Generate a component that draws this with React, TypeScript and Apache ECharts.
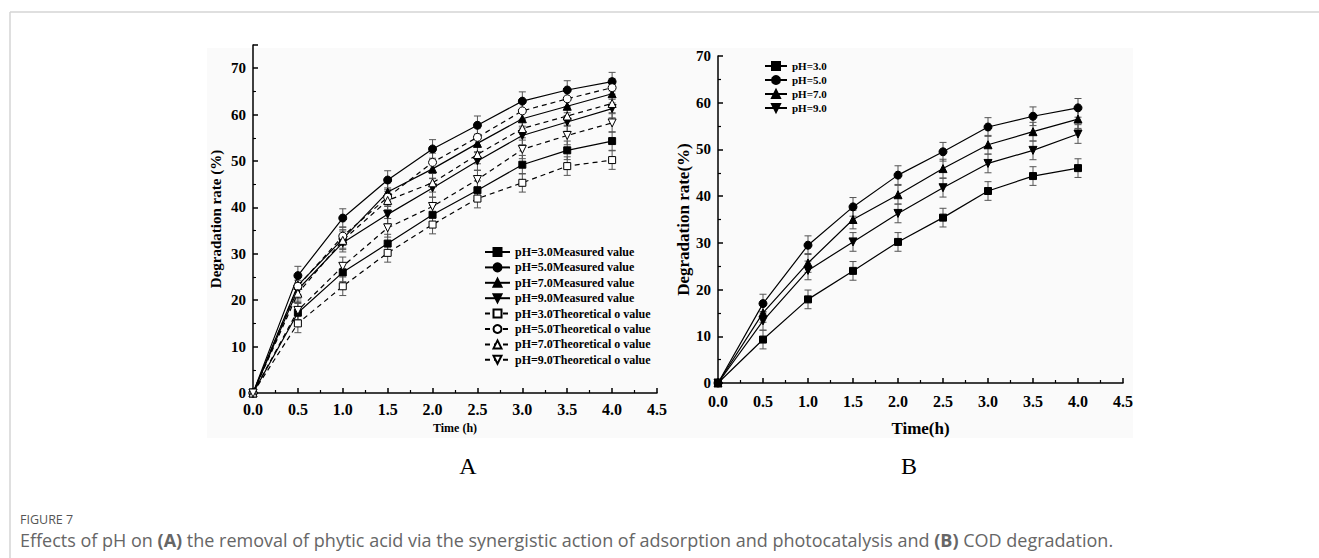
import React, { useEffect, useRef } from "react";
import * as echarts from "echarts";

const timeH = [0, 0.5, 1.0, 1.5, 2.0, 2.5, 3.0, 3.5, 4.0];

// Panel A: phytic acid removal (%)
const measured3 = [0, 17.3, 26.0, 32.2, 38.4, 43.7, 49.2, 52.3, 54.3];
const measured5 = [0, 25.3, 37.7, 45.9, 52.6, 57.7, 62.9, 65.3, 67.1];
const measured7 = [0, 23.2, 33.2, 43.3, 48.3, 53.8, 59.1, 61.8, 64.5];
const measured9 = [0, 22.3, 32.4, 38.5, 44.2, 50.0, 55.5, 58.4, 61.3];
const theoretical3 = [0, 15.0, 23.0, 30.2, 36.3, 41.9, 45.3, 48.9, 50.2];
const theoretical5 = [0, 23.0, 33.8, 42.2, 49.7, 55.1, 60.8, 63.4, 65.8];
const theoretical7 = [0, 21.5, 32.9, 41.5, 45.3, 51.4, 57.0, 59.7, 62.4];
const theoretical9 = [0, 17.8, 27.3, 35.6, 40.2, 46.0, 52.5, 55.5, 58.2];
const errorA = [0, 2, 2, 2, 2, 2, 2, 2, 2];

// Panel B: COD degradation (%)
const cod3 = [0, 9.3, 17.9, 24.0, 30.2, 35.4, 41.1, 44.3, 46.0];
const cod5 = [0, 17.0, 29.5, 37.7, 44.5, 49.5, 54.8, 57.1, 58.9];
const cod7 = [0, 15.0, 25.7, 35.0, 40.3, 45.9, 51.0, 53.8, 56.5];
const cod9 = [0, 13.3, 24.1, 30.2, 36.3, 41.8, 47.0, 49.8, 53.3];
const errorB = [0, 2, 2, 2, 2, 2, 2, 2, 2];

const namesA = [
  "pH=3.0Measured value",
  "pH=5.0Measured value",
  "pH=7.0Measured value",
  "pH=9.0Measured value",
  "pH=3.0Theoretical o value",
  "pH=5.0Theoretical o value",
  "pH=7.0Theoretical o value",
  "pH=9.0Theoretical o value",
];
const namesB = ["pH=3.0", "pH=5.0", "pH=7.0", "pH=9.0"];

const SERIF = "'Liberation Serif', 'Times New Roman', serif";

type Mark = { symbol: string; rotate: number; size: number };
const marks: Mark[] = [
  { symbol: "rect", rotate: 0, size: 7 },
  { symbol: "circle", rotate: 0, size: 8 },
  { symbol: "triangle", rotate: 0, size: 8 },
  { symbol: "triangle", rotate: 180, size: 8 },
];

function pairs(vals: number[]) {
  return timeH.map((t, i) => [t, vals[i]]);
}

function lineSeries(
  name: string,
  vals: number[],
  mark: Mark,
  filled: boolean,
  dashed: boolean,
  axis: number
) {
  return {
    type: "line",
    name,
    xAxisIndex: axis,
    yAxisIndex: axis,
    data: pairs(vals),
    symbol: mark.symbol,
    symbolRotate: mark.rotate,
    symbolSize: mark.size,
    showAllSymbol: true,
    z: 3,
    lineStyle: { color: "#000", width: 1.2, type: dashed ? [5, 4] : "solid" },
    itemStyle: {
      color: filled ? "#000" : "#fff",
      borderColor: "#000",
      borderWidth: 1,
    },
    emphasis: { disabled: true },
  };
}

function errorSeries(vals: number[], errs: number[], axis: number) {
  return {
    type: "custom",
    xAxisIndex: axis,
    yAxisIndex: axis,
    silent: true,
    z: 2,
    data: timeH.map((t, i) => [t, vals[i], errs[i]]),
    encode: { x: 0, y: 1 },
    renderItem: (_p: any, api: any) => {
      const x = api.value(0);
      const y = api.value(1);
      const e = api.value(2);
      if (!e) return { type: "group", children: [] };
      const top = api.coord([x, y + e]);
      const bot = api.coord([x, y - e]);
      const hw = 3.5;
      const st = { stroke: "#555", lineWidth: 1 };
      return {
        type: "group",
        children: [
          { type: "line", shape: { x1: top[0], y1: top[1], x2: bot[0], y2: bot[1] }, style: st },
          { type: "line", shape: { x1: top[0] - hw, y1: top[1], x2: top[0] + hw, y2: top[1] }, style: st },
          { type: "line", shape: { x1: bot[0] - hw, y1: bot[1], x2: bot[0] + hw, y2: bot[1] }, style: st },
        ],
      };
    },
  };
}

function xAxisDef(gridIndex: number, name: string, nameGap: number, labelSize: number, nameSize: number, margin: number) {
  return {
    type: "value",
    gridIndex,
    min: 0,
    max: 4.5,
    interval: 0.5,
    name,
    nameLocation: "middle",
    nameGap,
    nameTextStyle: { fontFamily: SERIF, fontWeight: "bold", fontSize: nameSize, color: "#000" },
    axisLine: { show: true, onZero: false, lineStyle: { color: "#000", width: 1.5 } },
    axisTick: { show: true, inside: true, length: 5, lineStyle: { color: "#000", width: 1.5 } },
    minorTick: { show: true, splitNumber: 2, length: 3, lineStyle: { color: "#000", width: 1.2 } },
    splitLine: { show: false },
    axisLabel: {
      margin,
      fontFamily: SERIF,
      fontWeight: "bold",
      fontSize: labelSize,
      color: "#000",
      formatter: (v: number) => v.toFixed(1),
    },
  };
}

function yAxisDef(gridIndex: number, max: number, name: string, nameGap: number, labelSize: number, nameSize: number) {
  return {
    type: "value",
    gridIndex,
    min: 0,
    max,
    interval: 10,
    name,
    nameLocation: "middle",
    nameRotate: 90,
    nameGap,
    nameTextStyle: { fontFamily: SERIF, fontWeight: "bold", fontSize: nameSize, color: "#000" },
    axisLine: { show: true, onZero: false, lineStyle: { color: "#000", width: 1.5 } },
    axisTick: { show: true, inside: true, length: 5, lineStyle: { color: "#000", width: 1.5 } },
    minorTick: { show: true, splitNumber: 2, length: 3, lineStyle: { color: "#000", width: 1.2 } },
    splitLine: { show: false },
    axisLabel: {
      margin: 7,
      fontFamily: SERIF,
      fontWeight: "bold",
      fontSize: labelSize,
      color: "#000",
      formatter: (v: number) => (v % 10 === 0 ? String(v) : ""),
    },
  };
}

export default function App() {
  const ref = useRef<HTMLDivElement>(null);

  useEffect(() => {
    if (!ref.current) return;
    const chart = echarts.init(ref.current, undefined, { renderer: "svg" });

    const seriesA = [
      lineSeries(namesA[0], measured3, marks[0], true, false, 0),
      lineSeries(namesA[1], measured5, marks[1], true, false, 0),
      lineSeries(namesA[2], measured7, marks[2], true, false, 0),
      lineSeries(namesA[3], measured9, marks[3], true, false, 0),
      lineSeries(namesA[4], theoretical3, marks[0], false, true, 0),
      lineSeries(namesA[5], theoretical5, marks[1], false, true, 0),
      lineSeries(namesA[6], theoretical7, marks[2], false, true, 0),
      lineSeries(namesA[7], theoretical9, marks[3], false, true, 0),
    ];
    const errA = [measured3, measured5, measured7, measured9, theoretical3, theoretical5, theoretical7, theoretical9].map(
      (v) => errorSeries(v, errorA, 0)
    );
    const seriesB = [
      lineSeries(namesB[0], cod3, marks[0], true, false, 1),
      lineSeries(namesB[1], cod5, marks[1], true, false, 1),
      lineSeries(namesB[2], cod7, marks[2], true, false, 1),
      lineSeries(namesB[3], cod9, marks[3], true, false, 1),
    ];
    const errB = [cod3, cod5, cod7, cod9].map((v) => errorSeries(v, errorB, 1));

    const frame = { stroke: "#d4d4d4", lineWidth: 1.5 };

    chart.setOption({
      animation: false,
      backgroundColor: "#fff",
      grid: [
        { left: 253, top: 45, width: 404, height: 348 },
        { left: 718, top: 56, width: 405, height: 327 },
      ],
      xAxis: [
        xAxisDef(0, "Time (h)", 26, 16, 12, 8),
        xAxisDef(1, "Time(h)", 37, 16, 17, 10),
      ],
      yAxis: [
        yAxisDef(0, 75, "Degradation rate (%)", 30, 15, 15),
        yAxisDef(1, 70, "Degradation rate(%)", 26, 15, 17),
      ],
      legend: [
        {
          data: namesA,
          orient: "vertical",
          left: 479,
          top: 241,
          itemWidth: 25,
          itemHeight: 10,
          itemGap: 3.4,
          selectedMode: false,
          textStyle: { fontFamily: SERIF, fontWeight: "bold", fontSize: 12, color: "#000" },
        },
        {
          data: namesB,
          orient: "vertical",
          left: 759,
          top: 55.5,
          itemWidth: 22,
          itemHeight: 10,
          itemGap: 3,
          selectedMode: false,
          textStyle: { fontFamily: SERIF, fontWeight: "bold", fontSize: 11, color: "#000" },
        },
      ],
      graphic: [
        { type: "rect", z: -10, silent: true, shape: { x: 207, y: 48, width: 926, height: 390 }, style: { fill: "#fafafa" } },
        { type: "line", silent: true, shape: { x1: 10, y1: 12, x2: 1319, y2: 12 }, style: frame },
        { type: "line", silent: true, shape: { x1: 10, y1: 12, x2: 10, y2: 558 }, style: frame },
        {
          type: "text",
          x: 468,
          y: 466,
          style: { text: "A", fontFamily: SERIF, fontSize: 24, fill: "#000", align: "center", verticalAlign: "middle" },
        },
        {
          type: "text",
          x: 909,
          y: 466,
          style: { text: "B", fontFamily: SERIF, fontSize: 24, fill: "#000", align: "center", verticalAlign: "middle" },
        },
        {
          type: "text",
          x: 20,
          y: 519,
          style: { text: "FIGURE 7", fontFamily: "'Open Sans', sans-serif", fontSize: 12.5, fill: "#555", verticalAlign: "middle" },
        },
        {
          type: "text",
          x: 20,
          y: 540,
          style: {
            text: "Effects of pH on {b|(A)} the removal of phytic acid via the synergistic action of adsorption and photocatalysis and {b|(B)} COD degradation.",
            fontFamily: "'Open Sans', sans-serif",
            fontSize: 18,
            fill: "#666",
            verticalAlign: "middle",
            rich: { b: { fontWeight: "bold", fontFamily: "'Open Sans', sans-serif", fontSize: 18, fill: "#666" } },
          },
        },
      ],
      series: [...errA, ...seriesA, ...errB, ...seriesB],
    });

    return () => chart.dispose();
  }, []);

  return (
    <div
      ref={ref}
      style={{ position: "fixed", left: 0, top: 0, width: 1319, height: 558 }}
    />
  );
}
